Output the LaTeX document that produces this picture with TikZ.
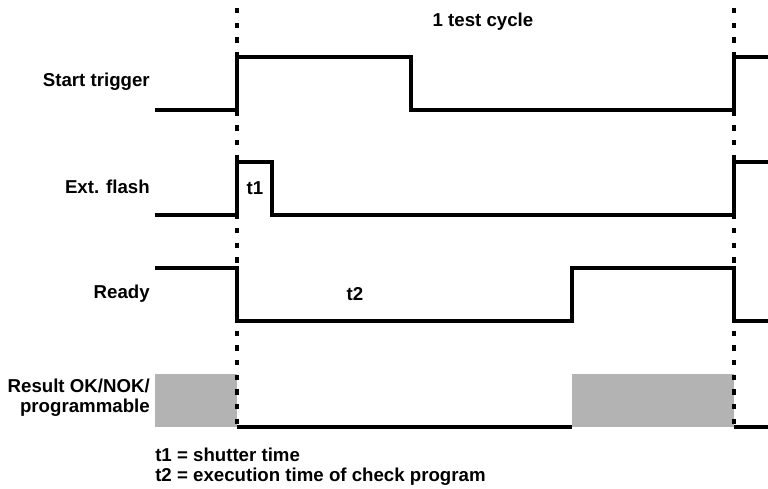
\documentclass[tikz,border=0pt]{standalone}
\usepackage{fontspec}
\setmainfont{Liberation Sans}
\definecolor{boxgray}{HTML}{B3B3B3}
\begin{document}
\begin{tikzpicture}[x=0.75pt,y=-0.75pt,
  sig/.style={line width=3.5pt, line join=miter, line cap=butt},
  dotl/.style={line width=2.4pt, dash pattern=on 4pt off 7pt},
  txt/.style={font=\bfseries\fontsize{14}{15}\selectfont, inner sep=0pt},
  lbl/.style={txt, anchor=east, align=right}]
\useasboundingbox (0,0) rectangle (768,489);
% gray result boxes
\fill[boxgray] (155,374) rectangle (237,427);
\fill[boxgray] (572,374) rectangle (734,427);
% dotted cycle markers
\coordinate (d1t) at (237,8);  \coordinate (d1b) at (237,432);
\coordinate (d2t) at (734,8);  \coordinate (d2b) at (734,432);
\draw[dotl] (d1t) -- (d1b);
\draw[dotl] (d2t) -- (d2b);
% signals
\draw[sig] (155,110) -- (237,110) -- (237,57) -- (411,57) -- (411,110) -- (734,110) -- (734,57) -- (768,57);
\draw[sig] (155,215) -- (237,215) -- (237,162) -- (272,162) -- (272,215) -- (734,215) -- (734,162) -- (768,162);
\draw[sig] (155,268) -- (237,268) -- (237,321) -- (572,321) -- (572,268) -- (734,268) -- (734,321) -- (768,321);
\draw[sig] (237,427) -- (572,427);
\draw[sig] (734,427) -- (768,427);
% labels
\node[lbl] (ls) at (150,82) {Start trigger};
\node[lbl] (lf) at (150,187) {Ext. flash};
\node[lbl] (lr) at (150,294) {Ready};
\node[lbl] (lo) at (150,398) {Result OK/NOK/\\programmable};
\node[txt] (cyc) at (483,22) {1 test cycle};
\node[txt] (t1) at (255,188) {t1};
\node[txt] (t2) at (355,294) {t2};
\node[txt, anchor=base west] (k1) at (155,461) {t1 = shutter time};
\node[txt, anchor=base west] (k2) at (155,481) {t2 = execution time of check program};
\end{tikzpicture}
\end{document}
